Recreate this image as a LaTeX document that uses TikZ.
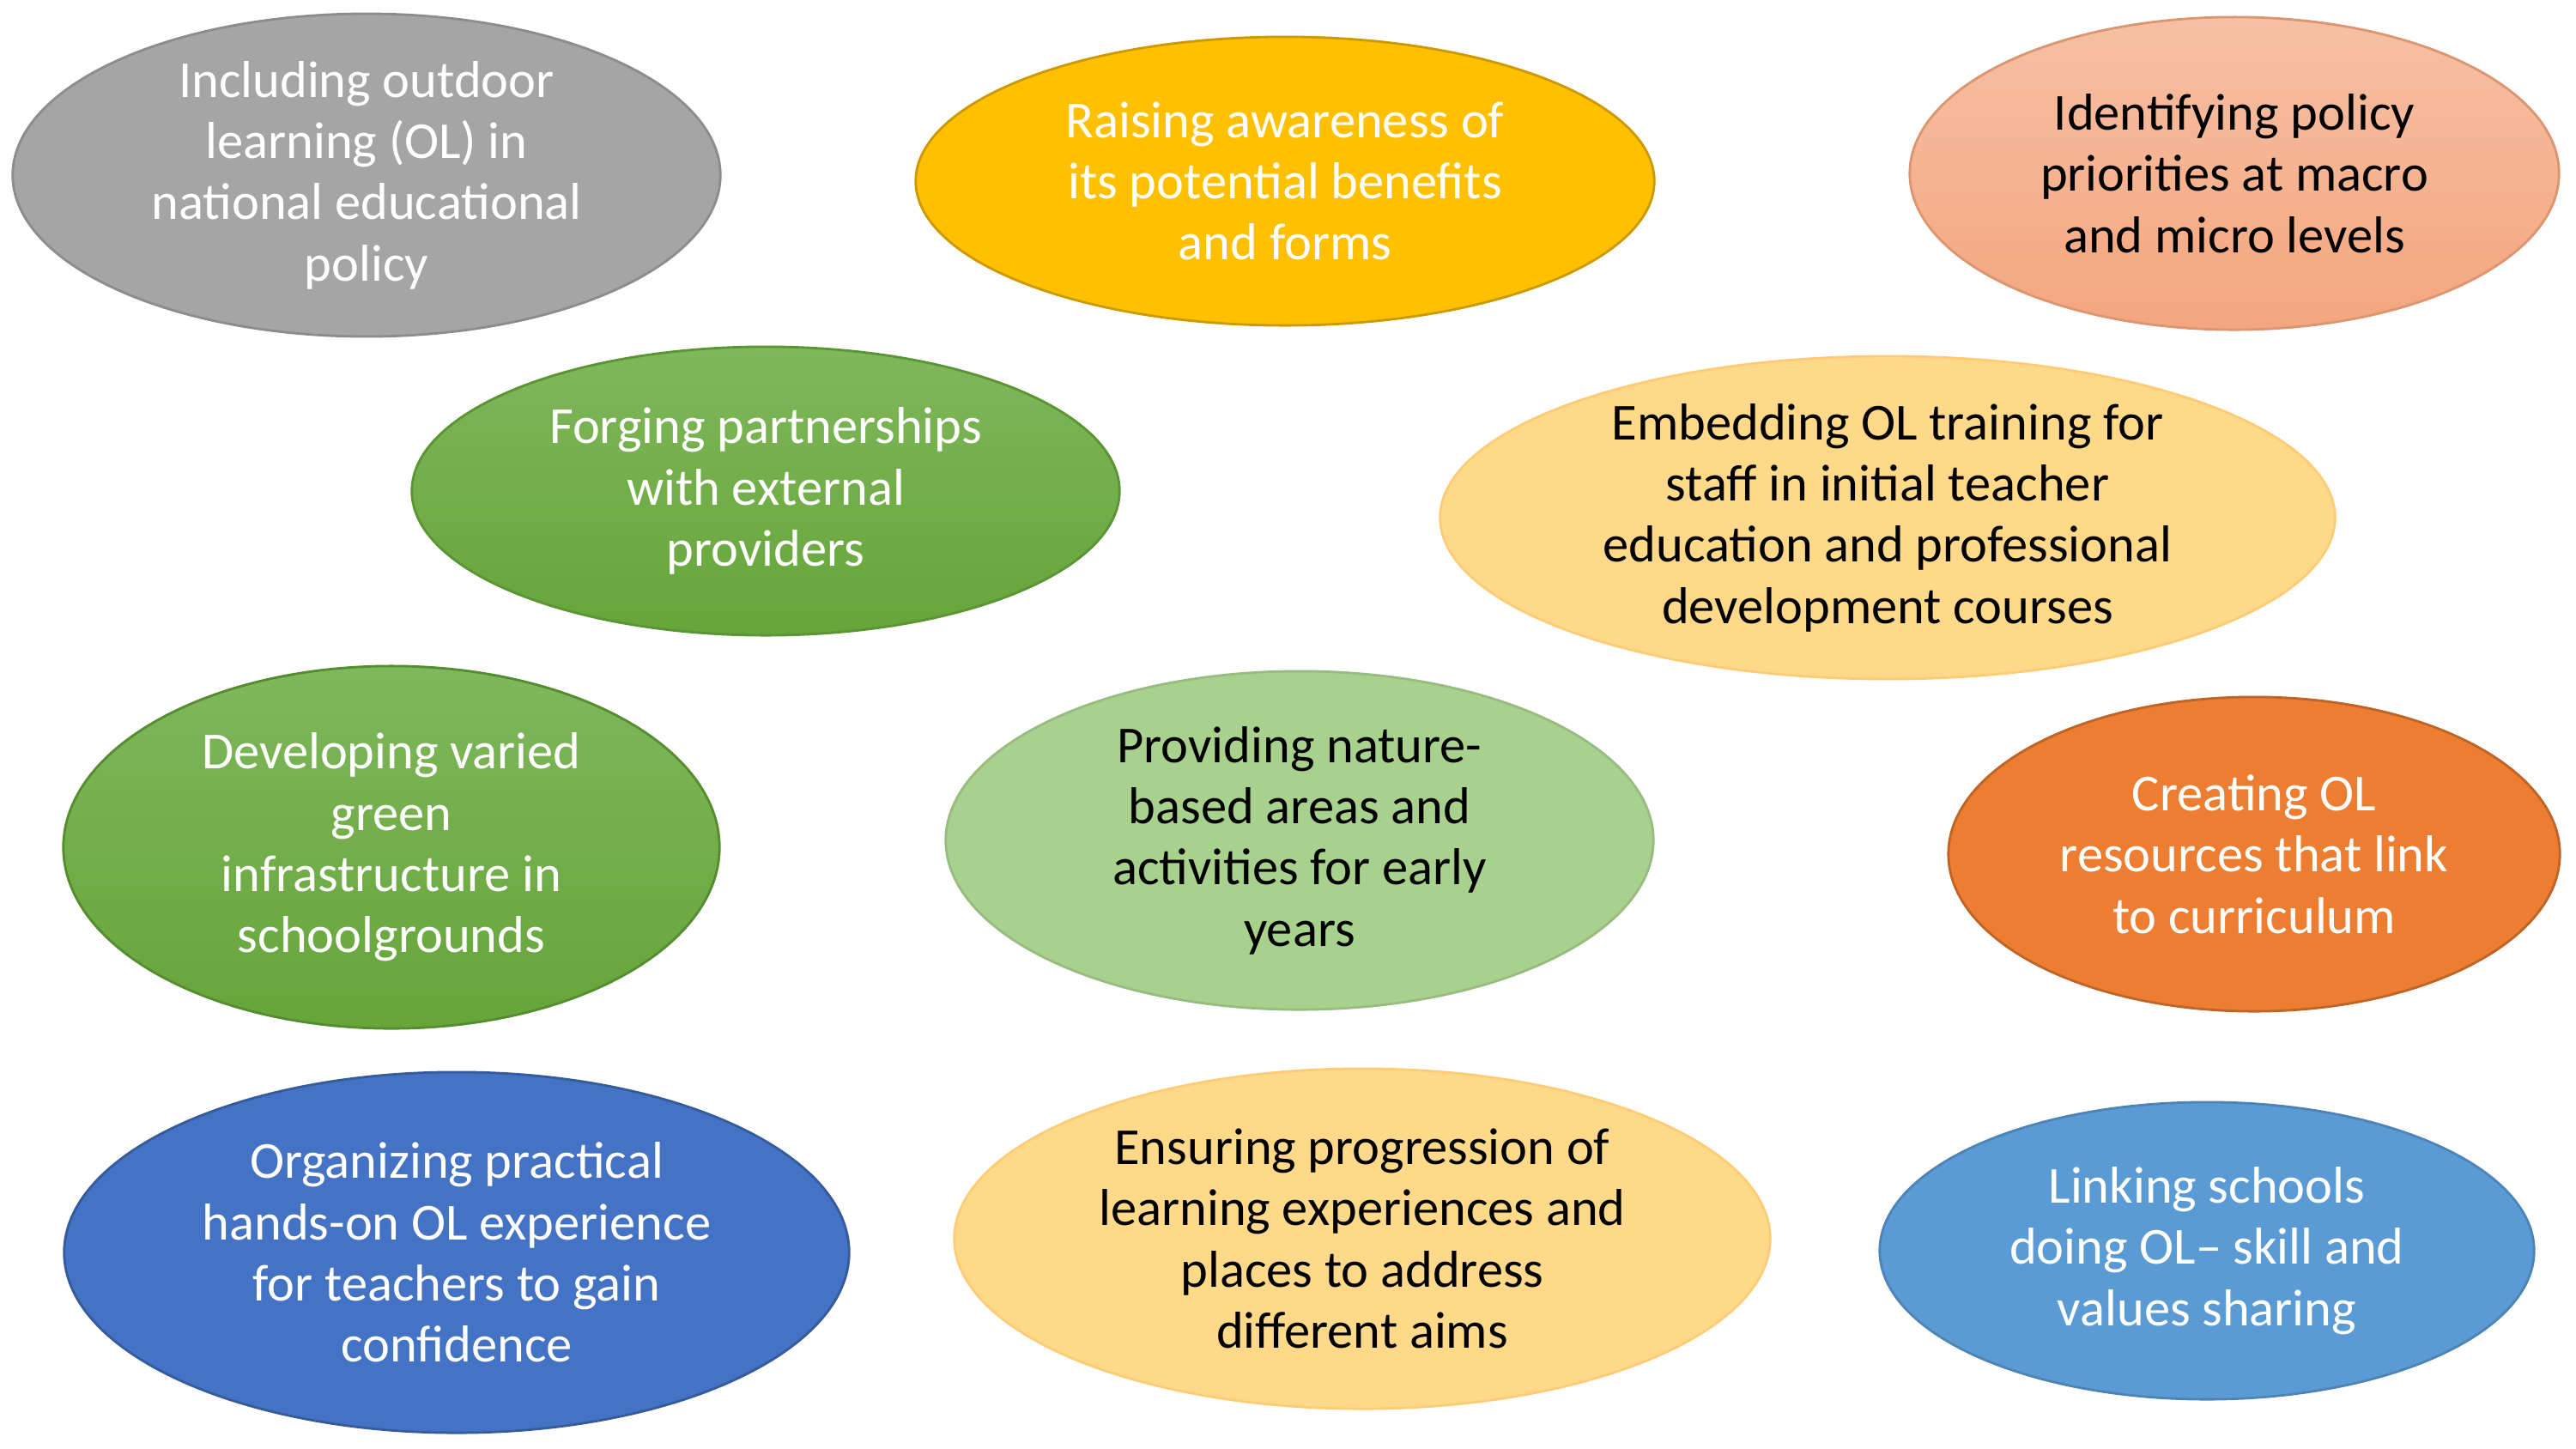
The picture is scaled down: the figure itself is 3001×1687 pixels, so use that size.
\documentclass[tikz,border=0pt]{standalone}
\usepackage{fontspec}
\setmainfont{Carlito}
\usetikzlibrary{shapes.geometric}

\definecolor{olgrey}{HTML}{A5A5A5}
\definecolor{olgold}{HTML}{FFC000}
\definecolor{olsalmontop}{HTML}{F6C0A4}
\definecolor{olsalmonbot}{HTML}{F4A67E}
\definecolor{olgreentop}{HTML}{80B75B}
\definecolor{olgreenbot}{HTML}{65A539}
\definecolor{olgreen}{HTML}{70AD47}
\definecolor{olpaleyellow}{HTML}{FFD98A}
\definecolor{olpalegreen}{HTML}{A9D18E}
\definecolor{olorange}{HTML}{ED7D31}
\definecolor{olblue}{HTML}{4472C4}
\definecolor{ollightblue}{HTML}{5B9BD5}

\begin{document}
\begin{tikzpicture}[x=0.01cm, y=-0.01cm,
    bubble/.style={ellipse, inner sep=0pt, align=center,
        font=\fontsize{17.2}{20.3}\selectfont, line width=0.8pt},
    darktext/.style={text=white},
    lighttext/.style={text=black}]
    \useasboundingbox (0,0) rectangle (3001,1687);

    % Top row
    \node[bubble, darktext, fill=olgrey, draw=olgrey!85!black,
        minimum width=8.24cm, minimum height=3.64cm] (policy) at (427,204)
        {Including outdoor\\learning (OL) in\\national educational\\policy};
    \node[bubble, darktext, fill=olgold, draw=olgold!80!black,
        minimum width=8.6cm, minimum height=3.36cm] (awareness) at (1497,211)
        {Raising awareness of\\its potential benefits\\and forms};
    \node[bubble, lighttext, top color=olsalmontop, bottom color=olsalmonbot, draw=olsalmonbot!90!black,
        minimum width=7.56cm, minimum height=3.64cm] (priorities) at (2603,202)
        {Identifying policy\\priorities at macro\\and micro levels};

    % Second row
    \node[bubble, darktext, top color=olgreentop, bottom color=olgreenbot, draw=olgreenbot!90!black,
        minimum width=8.24cm, minimum height=3.36cm] (partners) at (892,572)
        {Forging partnerships\\with external\\providers};
    \node[bubble, lighttext, fill=olpaleyellow, draw=olpaleyellow!85!orange,
        minimum width=10.42cm, minimum height=3.46cm] (training) at (2199,603)
        {Embedding OL training for\\staff in initial teacher\\education and professional\\development courses};

    % Third row
    \node[bubble, darktext, top color=olgreentop, bottom color=olgreenbot, draw=olgreenbot!85!black,
        minimum width=7.64cm, minimum height=4.22cm] (infra) at (456,987)
        {Developing varied\\green\\infrastructure in\\schoolgrounds};
    \node[bubble, lighttext, fill=olpalegreen, draw=olpalegreen!90!black,
        minimum width=8.24cm, minimum height=3.94cm] (nature) at (1514,979)
        {Providing nature-\\based areas and\\activities for early\\years};
    \node[bubble, darktext, fill=olorange, draw=olorange!80!black,
        minimum width=7.12cm, minimum height=3.66cm] (resources) at (2626,995)
        {Creating OL\\resources that link\\to curriculum};

    % Bottom row
    \node[bubble, darktext, fill=olblue, draw=olblue!80!black,
        minimum width=9.14cm, minimum height=4.2cm] (handson) at (532,1459)
        {Organizing practical\\hands-on OL experience\\for teachers to gain\\confidence};
    \node[bubble, lighttext, fill=olpaleyellow, draw=olpaleyellow!85!orange,
        minimum width=9.5cm, minimum height=3.96cm] (progression) at (1587,1443)
        {Ensuring progression of\\learning experiences and\\places to address\\different aims};
    \node[bubble, darktext, fill=ollightblue, draw=ollightblue!85!black,
        minimum width=7.62cm, minimum height=3.46cm] (linking) at (2571,1457)
        {Linking schools\\doing OL-- skill and\\values sharing};
\end{tikzpicture}
\end{document}
